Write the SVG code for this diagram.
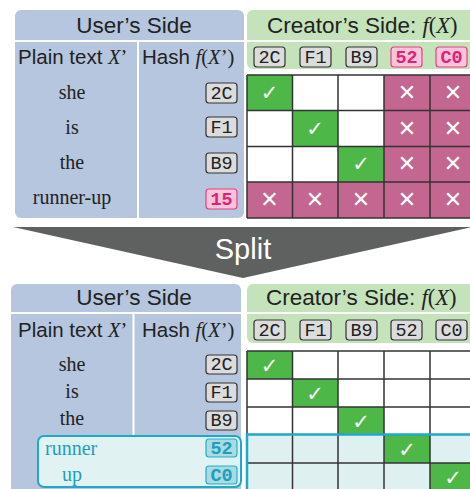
<svg xmlns="http://www.w3.org/2000/svg" width="470" height="489" viewBox="0 0 470 489">
<style>
.user{fill:#b5c6de}
.creator{fill:#c4e3ba}
.sep{stroke:#ffffff;stroke-width:2;fill:none}
.hd{font-family:"Liberation Sans",Arial,sans-serif;font-size:22.5px;fill:#222}
.sub{font-family:"Liberation Sans",Arial,sans-serif;font-size:20.5px;fill:#222}
.it{font-family:"Liberation Serif","Times New Roman",serif;font-style:italic}
.rm{font-family:"Liberation Serif","Times New Roman",serif}
.word{font-family:"Liberation Serif","Times New Roman",serif;font-size:20px;fill:#222;text-anchor:middle}
.cword{font-family:"Liberation Serif","Times New Roman",serif;font-size:20px;fill:#1b9fc0}
.bg{fill:#dcdcdc;stroke:#333;stroke-width:1.2}
.bp{fill:#f7c6dc;stroke:#e8407f;stroke-width:1.2}
.bc{fill:#a9dbe1;stroke:#27aecb;stroke-width:1.2}
.tg{font-family:"Liberation Mono","Courier New",monospace;font-size:18.5px;fill:#222;text-anchor:middle}
.tp{font-family:"Liberation Mono","Courier New",monospace;font-size:18.5px;font-weight:bold;fill:#e41f78;text-anchor:middle}
.tc{font-family:"Liberation Mono","Courier New",monospace;font-size:18.5px;font-weight:bold;fill:#1b9fc0;text-anchor:middle}
.ok{fill:#4db848}
.no{fill:#c36690}
.wh{fill:#ffffff}
.lc{fill:#def0f0}
.grid{stroke:#333;stroke-width:1.5;fill:none}
.chk{font-family:"DejaVu Sans",sans-serif;font-size:21px;fill:#fff;text-anchor:middle}
.crs{font-family:"DejaVu Sans",sans-serif;font-size:22px;font-weight:bold;fill:#fff;text-anchor:middle}
</style>

<!-- TOP: user's side -->
<g id="top-user">
  <rect class="user" x="15" y="10" width="229" height="208" rx="6"/>
  <line class="sep" x1="15" y1="41" x2="244" y2="41"/>
  <line class="sep" x1="138" y1="41" x2="138" y2="218"/>
  <text class="hd" x="134" y="33" text-anchor="middle">User’s Side</text>
  <text class="sub" x="18" y="64">Plain text <tspan class="it">X</tspan><tspan class="rm">’</tspan></text>
  <text class="sub" x="142" y="64">Hash <tspan class="it">f</tspan><tspan class="rm">(</tspan><tspan class="it">X</tspan><tspan class="rm">’)</tspan></text>
  <text class="word" x="72" y="99">she</text>
  <text class="word" x="72" y="134">is</text>
  <text class="word" x="72" y="169">the</text>
  <text class="word" x="72" y="204">runner-up</text>
  <rect class="bg" x="206" y="83" width="31" height="20" rx="3"/><text class="tg" x="221.5" y="99">2C</text>
  <rect class="bg" x="206" y="117" width="31" height="20" rx="3"/><text class="tg" x="221.5" y="133">F1</text>
  <rect class="bg" x="206" y="153" width="31" height="20" rx="3"/><text class="tg" x="221.5" y="169">B9</text>
  <rect class="bp" x="206" y="189" width="31" height="20" rx="3"/><text class="tp" x="221.5" y="205">15</text>
</g>

<!-- TOP: creator's side -->
<g id="top-creator">
  <rect class="creator" x="247" y="10" width="240" height="59" rx="6"/>
  <line class="sep" x1="247" y1="41" x2="470" y2="41"/>
  <text class="hd" x="267" y="33">Creator’s Side: <tspan class="it">f</tspan><tspan class="rm">(</tspan><tspan class="it">X</tspan><tspan class="rm">)</tspan></text>
  <rect class="bg" x="254" y="47" width="31" height="20" rx="3"/><text class="tg" x="269.5" y="63">2C</text>
  <rect class="bg" x="300" y="47" width="31" height="20" rx="3"/><text class="tg" x="315.5" y="63">F1</text>
  <rect class="bg" x="346" y="47" width="31" height="20" rx="3"/><text class="tg" x="361.5" y="63">B9</text>
  <rect class="bp" x="391" y="47" width="31" height="20" rx="3"/><text class="tp" x="406.5" y="63">52</text>
  <rect class="bp" x="436" y="47" width="31" height="20" rx="3"/><text class="tp" x="451.5" y="63">C0</text>
</g>

<g id="top-grid">
  <rect class="ok" x="247" y="75" width="45.5" height="35.5"/>
  <rect class="wh" x="292.5" y="75" width="45.5" height="35.5"/>
  <rect class="wh" x="338" y="75" width="46" height="35.5"/>
  <rect class="no" x="384" y="75" width="92" height="35.5"/>
  <rect class="wh" x="247" y="110.5" width="45.5" height="36"/>
  <rect class="ok" x="292.5" y="110.5" width="45.5" height="36"/>
  <rect class="wh" x="338" y="110.5" width="46" height="36"/>
  <rect class="no" x="384" y="110.5" width="92" height="36"/>
  <rect class="wh" x="247" y="146.5" width="91" height="35.5"/>
  <rect class="ok" x="338" y="146.5" width="46" height="35.5"/>
  <rect class="no" x="384" y="146.5" width="92" height="35.5"/>
  <rect class="no" x="247" y="182" width="229" height="36"/>
  <path class="grid" d="M247,75H476M247,110.5H476M247,146.5H476M247,182H476M247,218H476M247,75V218M292.5,75V218M338,75V218M384,75V218M430,75V218"/>
  <text class="chk" x="269.5" y="100">✓</text>
  <text class="chk" x="315" y="136">✓</text>
  <text class="chk" x="361" y="171">✓</text>
  <text class="crs" x="407" y="100">✕</text><text class="crs" x="453" y="100">✕</text>
  <text class="crs" x="407" y="136">✕</text><text class="crs" x="453" y="136">✕</text>
  <text class="crs" x="407" y="171">✕</text><text class="crs" x="453" y="171">✕</text>
  <text class="crs" x="269.5" y="207">✕</text><text class="crs" x="315" y="207">✕</text><text class="crs" x="361" y="207">✕</text><text class="crs" x="407" y="207">✕</text><text class="crs" x="453" y="207">✕</text>
</g>

<!-- Split arrow -->
<g id="split">
  <polygon points="13,227 472,227 243,278" fill="#5f6160"/>
  <text x="243" y="259" text-anchor="middle" font-family="'Liberation Sans',Arial,sans-serif" font-size="29" fill="#ffffff">Split</text>
</g>

<!-- BOTTOM: user's side -->
<g id="bottom-user">
  <rect class="user" x="11" y="284" width="230" height="215" rx="6"/>
  <line class="sep" x1="11" y1="313" x2="241" y2="313"/>
  <line class="sep" x1="133.5" y1="313" x2="133.5" y2="436"/>
  <text class="hd" x="134" y="305" text-anchor="middle">User’s Side</text>
  <text class="sub" x="18" y="337">Plain text <tspan class="it">X</tspan><tspan class="rm">’</tspan></text>
  <text class="sub" x="142" y="337">Hash <tspan class="it">f</tspan><tspan class="rm">(</tspan><tspan class="it">X</tspan><tspan class="rm">’)</tspan></text>
  <text class="word" x="72" y="371">she</text>
  <text class="word" x="72" y="398">is</text>
  <text class="word" x="72" y="425">the</text>
  <rect class="bg" x="206" y="355" width="31" height="19" rx="3"/><text class="tg" x="221.5" y="370">2C</text>
  <rect class="bg" x="206" y="383" width="31" height="19" rx="3"/><text class="tg" x="221.5" y="398">F1</text>
  <rect class="bg" x="206" y="411" width="31" height="19" rx="3"/><text class="tg" x="221.5" y="426">B9</text>
</g>

<g id="bottom-split-group">
  <rect x="38" y="436" width="203" height="51" rx="6" fill="#e0f2f2" stroke="#1fa9c8" stroke-width="2"/>
  <text class="cword" x="45" y="455">runner</text>
  <text class="cword" x="62" y="481">up</text>
  <rect class="bc" x="206" y="439" width="31" height="18" rx="3"/><text class="tc" x="221.5" y="454">52</text>
  <rect class="bc" x="206" y="466" width="31" height="18" rx="3"/><text class="tc" x="221.5" y="481">C0</text>
</g>

<!-- BOTTOM: creator's side -->
<g id="bottom-creator">
  <rect class="creator" x="247" y="284" width="240" height="59" rx="6"/>
  <line class="sep" x1="247" y1="313" x2="470" y2="313"/>
  <text class="hd" x="266" y="305">Creator’s Side: <tspan class="it">f</tspan><tspan class="rm">(</tspan><tspan class="it">X</tspan><tspan class="rm">)</tspan></text>
  <rect class="bg" x="254" y="320" width="31" height="20" rx="3"/><text class="tg" x="269.5" y="336">2C</text>
  <rect class="bg" x="300" y="320" width="31" height="20" rx="3"/><text class="tg" x="315.5" y="336">F1</text>
  <rect class="bg" x="346" y="320" width="31" height="20" rx="3"/><text class="tg" x="361.5" y="336">B9</text>
  <rect class="bg" x="391" y="320" width="31" height="20" rx="3"/><text class="tg" x="406.5" y="336">52</text>
  <rect class="bg" x="436" y="320" width="31" height="20" rx="3"/><text class="tg" x="451.5" y="336">C0</text>
</g>

<g id="bottom-grid">
  <rect class="wh" x="247" y="351" width="229" height="83.5"/>
  <rect class="lc" x="247" y="434.5" width="229" height="60"/>
  <rect class="ok" x="247" y="351" width="45.5" height="28"/>
  <rect class="ok" x="292.5" y="379" width="45.5" height="28"/>
  <rect class="ok" x="338" y="407" width="46" height="27.5"/>
  <rect class="ok" x="384" y="434.5" width="46" height="28.5"/>
  <rect class="ok" x="430" y="463" width="46" height="30"/>
  <path class="grid" d="M247,351H476M247,379H476M247,407H476M247,463H476M247,351V434.5M292.5,351V495M338,351V495M384,351V495M430,351V495"/>
  <path d="M476,434.5H247V495" fill="none" stroke="#1fa9c8" stroke-width="2.5"/>
  <text class="chk" x="269.5" y="373">✓</text>
  <text class="chk" x="315" y="401">✓</text>
  <text class="chk" x="361" y="429">✓</text>
  <text class="chk" x="407" y="457">✓</text>
  <text class="chk" x="453" y="485">✓</text>
</g>
</svg>
